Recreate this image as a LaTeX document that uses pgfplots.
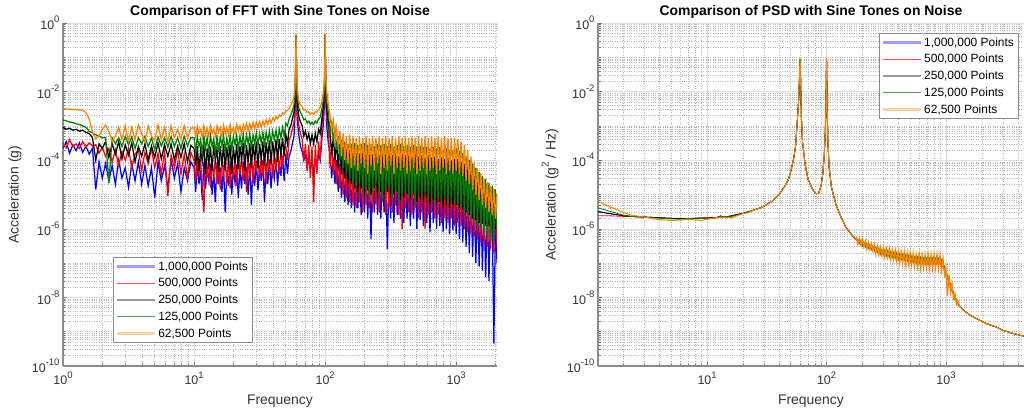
\documentclass[border=0pt]{standalone}
\usepackage{fontspec}
\setmainfont{Liberation Sans}
\usepackage{pgfplots}
\usepackage{pgfplotstable}
\pgfplotsset{compat=1.18}

\definecolor{mblue}{rgb}{0,0,1}
\definecolor{mred}{rgb}{1,0,0}
\definecolor{mgreen}{rgb}{0,0.5,0}
\definecolor{morange}{rgb}{1,0.5,0}
\definecolor{lblue}{rgb}{0.62,0.62,1}
\definecolor{lred}{rgb}{1,0.3,0.3}
\definecolor{lgray}{rgb}{0.6,0.6,0.6}
\definecolor{lgreen}{rgb}{0.3,0.62,0.3}
\definecolor{lorange}{rgb}{1,0.82,0.62}
\newcommand{\ex}[1]{10\raisebox{0.55em}{\fontsize{9.5}{10}\selectfont #1}}

% FFT magnitude
\pgfplotstableread{
f b r k g o
1.000 2.2e-4 3.2e-4 9e-4 1.5e-3 3.2e-3
1.059 3.5e-4 2.3e-4 8e-4 1.4e-3 3.1e-3
1.122 1.6e-4 4e-4 8.5e-4 1.3e-3 3.1e-3
1.189 2.8e-4 2.5e-4 7.5e-4 1.25e-3 3.0e-3
1.259 1.9e-4 3e-4 8e-4 1.15e-3 3.0e-3
1.334 3.2e-4 2.2e-4 7e-4 1.1e-3 2.9e-3
1.413 1.7e-4 3.5e-4 7.5e-4 1.0e-3 2.9e-3
1.496 2.6e-4 2.4e-4 6.5e-4 9e-4 2.4e-3
1.585 1.5e-4 3.2e-4 6e-4 7e-4 1.6e-3
1.679 2.2e-4 2.6e-4 4.5e-4 6.3e-4 6.5e-4
1.778 1.4e-5 2.8e-4 1e-4 5.5e-4 4.2e-4
1.884 9e-5 1.6e-4 3e-4 5e-4 5e-4
1.995 3e-5 2.4e-4 2.2e-4 4.5e-4 8e-4
2.113 8e-5 1.3e-4 3.5e-4 4.5e-4 1.05e-3
2.239 2.5e-5 2.2e-4 1.2e-4 2.2e-5 7e-4
2.371 7e-5 9e-5 3e-4 4.5e-4 3.5e-4
2.512 2e-5 2e-4 1.5e-4 3e-4 5e-4
2.661 1e-4 7e-5 3.5e-4 4.5e-4 9e-4
2.818 3e-5 1.8e-4 1.1e-4 2.5e-4 4e-4
2.985 6e-5 1e-4 2.8e-4 5e-4 1e-3
3.162 1.6e-5 2.2e-4 1.4e-4 2.8e-4 3.5e-4
3.350 8e-5 6e-5 3.2e-4 4.8e-4 9e-4
3.548 2.5e-5 1.5e-4 9e-5 2.2e-4 4e-4
3.758 9e-5 2e-4 2.5e-4 4.5e-4 1.05e-3
3.981 2e-5 5e-5 1.3e-4 3e-4 6e-4
4.217 7e-5 1.7e-4 3e-4 5e-4 3.5e-4
4.467 1.8e-5 8e-5 1e-4 2.5e-4 1e-3
4.732 6e-5 2.2e-4 2.6e-4 4.5e-4 5e-4
5.012 8e-6 6e-5 1.2e-4 2e-4 3.8e-4
5.309 9e-5 1.6e-4 3.2e-4 4.8e-4 1.05e-3
5.623 2.5e-5 4e-5 1.1e-4 2.6e-4 4e-4
5.957 7e-5 1.8e-4 2.8e-4 4.5e-4 9e-4
6.310 1.5e-5 9e-6 1.3e-4 2.4e-4 3.5e-4
6.683 1e-4 1.4e-4 3e-4 5e-4 1e-3
7.079 3e-5 6e-5 1e-4 2.5e-4 4.5e-4
7.499 8e-5 2e-4 2.6e-4 4.5e-4 8e-4
7.943 1.2e-5 4e-5 1.2e-4 2.2e-4 4e-4
8.414 6e-5 1.5e-4 3e-4 5e-4 1e-3
8.913 2.5e-5 3e-5 9e-5 2.6e-4 4.5e-4
9.441 9e-5 1.7e-4 2.7e-4 4.5e-4 8.5e-4
10.00 6e-5 1e-4 2.2e-4 4.5e-4 9e-4
10.29 1.2e-5 2.5e-5 7e-5 1.8e-4 5e-4
10.59 8e-5 1.2e-4 2.6e-4 5e-4 1e-3
10.90 2e-5 4e-5 5e-5 2.5e-4 6e-4
11.22 5e-5 9e-5 2e-4 4e-4 8e-4
11.55 7e-6 2e-5 9e-5 1.6e-4 4.5e-4
11.89 9e-5 3e-6 2.8e-4 5e-4 1e-3
12.23 1.5e-5 1.1e-4 4e-5 2.2e-4 5.5e-4
12.59 6e-5 3e-5 2.2e-4 4.5e-4 8.5e-4
12.96 2.5e-5 1.25e-4 8e-5 1.7e-4 5e-4
13.34 8e-5 1.6e-5 2.5e-4 5.2e-4 1e-3
13.73 1e-5 9e-5 5e-5 2.5e-4 6e-4
14.13 4.5e-5 3.5e-5 2.8e-4 4.2e-4 8e-4
14.54 6e-6 1.2e-4 1e-4 1.6e-4 5e-4
14.96 8.5e-5 2e-5 2.2e-4 5e-4 1e-3
15.40 2e-5 1e-4 4.5e-5 2e-4 6.5e-4
15.85 6e-5 1.4e-5 2.6e-4 4.8e-4 9e-4
16.31 1.2e-5 1.3e-4 7e-5 2.6e-4 5e-4
16.79 7e-5 4e-5 3e-4 5.2e-4 1.05e-3
17.28 3e-6 1e-4 5e-5 1.8e-4 6e-4
17.78 5e-5 2e-5 2.4e-4 4.5e-4 9e-4
18.30 1.8e-5 1.2e-4 9e-5 2.2e-4 5.5e-4
18.84 9e-5 1.5e-5 2.8e-4 5.5e-4 1.1e-3
19.39 1e-5 1.3e-4 4e-5 2e-4 6.5e-4
19.95 6e-5 3e-5 2.5e-4 5e-4 9e-4
20.54 2.2e-5 1.1e-4 8e-5 2.8e-4 6e-4
21.14 7.5e-5 1.8e-5 3e-4 5.5e-4 1.1e-3
21.75 8e-6 1.4e-4 5.5e-5 2e-4 7e-4
22.39 5.5e-5 4e-5 2.6e-4 5e-4 1e-3
23.04 1.5e-5 1.2e-4 1e-4 2.5e-4 6e-4
23.71 9e-5 2.5e-5 3.2e-4 5.8e-4 1.1e-3
24.41 2e-5 1.5e-4 5e-5 2.2e-4 7.5e-4
25.12 6.5e-5 1.2e-5 2.8e-4 5.5e-4 1.2e-3
25.85 1e-5 1.3e-4 9e-5 3e-4 7e-4
26.61 8e-5 3e-5 3.2e-4 6e-4 1.15e-3
27.38 5e-6 1.5e-4 6e-5 2.3e-4 8e-4
28.18 7e-5 2e-5 3e-4 5.5e-4 1.25e-3
29.01 1.8e-5 1.3e-4 1e-4 3e-4 8e-4
29.85 9.5e-5 4.5e-5 3.5e-4 6.3e-4 1.3e-3
30.73 1.3e-5 1.6e-4 6e-5 2.6e-4 9e-4
31.62 7e-5 2.5e-5 3e-4 6e-4 1.3e-3
32.55 2.5e-5 1.4e-4 1.1e-4 3.2e-4 9e-4
33.50 1e-4 3.5e-5 3.5e-4 6.5e-4 1.4e-3
34.48 6e-6 1.7e-4 7e-5 2.8e-4 1e-3
35.48 8e-5 2e-5 3.3e-4 6.5e-4 1.5e-3
36.52 2e-5 1.5e-4 1.2e-4 3.5e-4 1.1e-3
37.58 1.05e-4 4.5e-5 3.8e-4 7e-4 1.6e-3
38.68 1.5e-5 1.8e-4 8e-5 3e-4 1.2e-3
39.81 7.5e-5 3e-5 3.5e-4 7e-4 1.7e-3
40.97 3e-5 1.7e-4 1.3e-4 4e-4 1.4e-3
42.17 1.1e-4 5e-5 4e-4 7.5e-4 1.9e-3
43.40 1.8e-5 2e-4 9e-5 3.5e-4 1.6e-3
44.67 9e-5 4e-5 4.2e-4 8e-4 2.1e-3
45.97 3.5e-5 2.2e-4 1.5e-4 4.5e-4 1.9e-3
47.32 1.3e-4 6e-5 4.5e-4 9e-4 2.4e-3
48.70 2.5e-5 2.5e-4 1.3e-4 5e-4 2.2e-3
50.12 1.5e-4 2.5e-4 5.6e-4 1.2e-3 2.7e-3
51.58 4e-5 1e-4 3e-4 1e-3 2.8e-3
53.09 1.3e-4 4e-4 8e-4 1.6e-3 3.2e-3
54.64 1.8e-4 5e-4 1e-3 2e-3 4e-3
56.23 3e-4 8e-4 1.6e-3 2.8e-3 5e-3
57.88 5e-4 1.3e-3 2.5e-3 4e-3 7e-3
58.9 2e-3 3.2e-3 5e-3 8e-3 1.3e-2
59.5 2e-2 2.5e-2 3.2e-2 4e-2 5e-2
60.0 0.45 0.45 0.45 0.45 0.45
60.5 1.6e-2 2.5e-2 3.2e-2 4e-2 5e-2
61.2 1.6e-3 2.5e-3 5e-3 8e-3 1.3e-2
63.10 5e-4 1e-3 1.8e-3 3.2e-3 5e-3
64.94 2.5e-4 6e-4 1.3e-3 2.5e-3 4e-3
66.83 1.8e-4 4e-4 1e-3 2e-3 3.5e-3
68.79 1e-4 1e-4 5e-4 1.5e-3 2.9e-3
70.80 1.5e-4 3e-4 7e-4 1.6e-3 3e-3
72.86 6e-5 5e-5 4e-4 1.2e-3 2.5e-3
74.99 1.2e-4 2.8e-4 6e-4 1.4e-3 2.6e-3
77.18 5e-5 3e-5 3e-4 1.1e-3 2.2e-3
79.43 1.1e-4 2.5e-4 5.5e-4 1.3e-3 2.4e-3
81.75 4e-5 6e-6 3e-4 1.1e-3 2.2e-3
84.14 1.2e-4 2.8e-4 6e-4 1.4e-3 2.6e-3
86.60 6e-5 4e-5 3.5e-4 1.2e-3 2.5e-3
89.13 1.6e-4 3.5e-4 8e-4 1.6e-3 3e-3
91.73 1e-4 1e-4 6e-4 1.8e-3 3.5e-3
94.41 4e-4 1e-3 1.6e-3 3.2e-3 5e-3
97.16 1.2e-3 2.5e-3 4e-3 6.3e-3 1e-2
98.6 4e-3 6e-3 1e-2 1.3e-2 2e-2
99.4 2.5e-2 3.2e-2 4e-2 5e-2 6.3e-2
100.0 0.47 0.47 0.47 0.47 0.47
100.6 2.5e-2 3.2e-2 4e-2 5e-2 6.3e-2
101.4 5e-3 8e-3 1.25e-2 1.6e-2 2e-2
102.9 1e-3 2e-3 3.2e-3 5e-3 1e-2
105.9 3e-4 8e-4 1.3e-3 2.5e-3 4e-3
109.0 1.5e-4 6e-5 6e-4 6e-4 2e-3
112.2 3e-5 3e-4 1.5e-4 1.2e-3 8e-4
115.5 1.2e-4 4e-5 5e-4 4e-4 1.5e-3
118.9 2e-5 2e-4 1e-4 8e-4 4e-4
122.3 1e-4 2e-5 3.5e-4 2e-4 9e-4
125.9 1.2e-5 1.5e-4 6e-5 5e-4 2.5e-4
129.6 8e-5 1.5e-5 3e-4 1e-4 7e-4
133.4 8e-6 1.3e-4 4e-5 4e-4 1.5e-4
137.3 7e-5 1e-5 2.5e-4 6e-5 6e-4
141.3 6e-6 1.2e-4 3e-5 3.5e-4 1e-4
145.4 6e-5 8e-6 2.2e-4 4e-5 5e-4
149.6 5e-6 1e-4 2e-5 3e-4 8e-5
154.0 5.5e-5 6e-6 2e-4 3e-5 5.5e-4
158.5 4e-6 1.1e-4 2e-5 3e-4 6e-5
163.1 5e-5 5e-6 1.8e-4 2e-5 5e-4
167.9 3e-6 9e-5 1.5e-5 3.2e-4 7e-5
172.8 5.5e-5 4e-6 2e-4 1.5e-5 4.5e-4
177.8 4e-6 1.1e-4 1.2e-5 2.8e-4 5e-5
183.0 4.5e-5 6e-6 1.6e-4 2e-5 5e-4
188.4 2.5e-6 9e-5 1.5e-5 3e-4 8e-5
193.9 5e-5 3e-6 1.9e-4 1e-5 4.5e-4
199.5 3e-6 1e-4 1e-5 3.2e-4 6e-5
205.4 4e-5 5e-6 1.5e-4 1.5e-5 5e-4
211.4 2e-6 8e-5 1.3e-5 2.8e-4 4e-5
217.5 5e-5 4e-6 1.8e-4 8e-6 4.5e-4
223.9 5e-7 1e-4 1e-5 3e-4 7e-5
230.4 4.5e-5 3e-6 1.5e-4 1.2e-5 5e-4
237.1 3e-6 9e-5 1.5e-5 2.6e-4 5e-5
244.1 5e-5 5e-6 1.7e-4 2e-5 4.5e-4
251.2 2.5e-6 1e-4 8e-6 3e-4 8e-5
258.5 4e-5 3e-6 1.4e-4 1e-5 5e-4
266.1 2e-6 8e-5 1.2e-5 2.8e-4 4e-5
273.8 5e-5 6e-6 1.8e-4 6e-6 4.5e-4
281.8 3e-6 1e-4 1e-5 3e-4 6e-5
290.1 4e-5 2.5e-6 1.5e-4 1.2e-5 5e-4
298.5 2.5e-7 9e-5 1.2e-5 2.6e-4 5e-5
307.3 4.5e-5 4e-6 1.7e-4 1.5e-5 4.5e-4
316.2 2e-6 8e-5 8e-6 3e-4 7e-5
325.5 4e-5 3e-6 1.4e-4 8e-6 5e-4
335.0 1.5e-6 1e-4 1e-5 2.6e-4 4e-5
344.8 5e-5 5e-6 1.6e-4 1.2e-5 4.5e-4
354.8 2.5e-6 8e-5 1.2e-5 2.8e-4 6e-5
365.2 3.5e-5 2.5e-6 1.3e-4 6e-6 5e-4
375.8 2e-6 9e-5 7e-6 3e-4 5e-5
386.8 4e-5 1e-6 1.5e-4 1e-5 4.5e-4
398.1 1.5e-6 8e-5 8e-6 2.6e-4 6e-5
409.7 4e-5 4e-6 1.4e-4 1.2e-5 5e-4
421.7 2e-6 9e-5 1e-5 2.8e-4 4e-5
434.0 3.5e-5 3e-6 1.6e-4 8e-6 4.5e-4
446.7 1.2e-6 7e-5 7e-6 2.5e-4 5e-5
459.7 4e-5 2.5e-6 1.3e-4 1e-5 5e-4
473.2 2e-6 8e-5 1e-5 2.8e-4 6e-5
487.0 3.5e-5 4e-6 1.5e-4 5e-6 4.5e-4
501.2 1e-6 7e-5 6e-6 2.5e-4 4e-5
515.8 4e-5 2e-6 1.3e-4 1e-5 5e-4
530.9 1.8e-6 8e-5 8e-6 2.6e-4 5e-5
546.4 3e-5 3e-6 1.4e-4 8e-6 4.5e-4
562.3 1.2e-6 7e-5 6e-6 2.4e-4 6e-5
578.8 3.5e-5 1e-6 1.2e-4 1.2e-5 5e-4
595.7 1.5e-6 8e-5 8e-6 2.5e-4 4e-5
613.1 3e-5 2.5e-6 1.4e-4 6e-6 4.5e-4
631.0 8e-7 6e-5 5e-6 2.2e-4 5e-5
649.4 3.5e-5 3e-6 1.2e-4 1e-5 5e-4
668.3 1.5e-6 7e-5 7e-6 2.4e-4 6e-5
687.9 3e-5 2e-6 1.3e-4 5e-6 4.5e-4
708.0 1e-6 6e-5 5e-6 2.2e-4 4e-5
728.6 3e-5 2.5e-6 1.1e-4 8e-6 5e-4
749.9 1.2e-6 7e-5 6e-6 2.4e-4 5e-5
771.8 2.5e-5 1.5e-6 1.2e-4 6e-6 4.5e-4
794.3 8e-7 6e-5 4e-6 2e-4 6e-5
817.5 3e-5 2e-6 1.1e-4 8e-6 5e-4
841.4 1e-6 5e-5 5e-6 2.2e-4 4e-5
866.0 2.5e-5 1.5e-6 1.2e-4 5e-6 4.5e-4
891.3 7e-7 6e-5 4e-6 2e-4 5e-5
917.3 2.5e-5 2e-6 1e-4 7e-6 4.5e-4
944.1 9e-7 5e-5 5e-6 2e-4 4e-5
971.6 2.5e-5 1.2e-6 1.1e-4 5e-6 4.5e-4
1000 7e-7 6e-5 5e-6 2.2e-4 5e-5
1029 2.5e-5 1.5e-6 1.1e-4 5e-6 4.2e-4
1059 5e-7 5.5e-5 4e-6 1.9e-4 4e-5
1090 2.2e-5 1.2e-6 9e-5 4e-6 3.5e-4
1122 4e-7 5e-5 3.5e-6 1.6e-4 3.5e-5
1155 2e-5 1e-6 8e-5 3e-6 2.8e-4
1189 3e-7 4e-5 3e-6 1.3e-4 2.5e-5
1223 1.6e-5 8e-7 6.5e-5 2.5e-6 2e-4
1259 2e-7 3.5e-5 2.5e-6 1e-4 2e-5
1296 1.4e-5 7e-7 5e-5 2e-6 1.3e-4
1334 1.5e-7 3e-5 2e-6 8e-5 1.4e-5
1372 1.2e-5 6e-7 4.5e-5 1.5e-6 9e-5
1413 1e-7 2.5e-5 1.8e-6 6e-5 1e-5
1454 1e-5 5e-7 3.5e-5 1.2e-6 6e-5
1496 8e-8 2e-5 1.5e-6 4.5e-5 7e-6
1540 8e-6 4e-7 3e-5 1e-6 4.2e-5
1585 6e-8 1.6e-5 1.4e-6 3.5e-5 5e-6
1631 6e-6 3.5e-7 2.5e-5 8e-7 3e-5
1679 4e-8 1.3e-5 1.2e-6 2.8e-5 4e-6
1728 5e-6 3e-7 2e-5 6e-7 2.3e-5
1778 3e-8 1e-5 1.2e-6 2.2e-5 3e-6
1830 4e-6 2.5e-7 1.6e-5 5e-7 1.8e-5
1884 2e-6 8e-6 1e-6 1.8e-5 2.5e-6
1939 4.5e-10 2e-7 1.4e-5 4e-7 1.5e-5
1995 2e-6 7e-6 1e-6 1.4e-5 2e-6
2048 1e-7 3e-7 1e-5 1e-6 1e-5
}\fft

% PSD, smooth part below 178 Hz
\pgfplotstableread{
f b r k g o
1.22 3.2e-6 2.4e-6 3.2e-6 4.1e-6 6.3e-6
1.5 2.8e-6 2.4e-6 2.8e-6 3.3e-6 4.5e-6
2.0 2.4e-6 2.3e-6 2.4e-6 2.5e-6 3e-6
2.3 2.3e-6 2.3e-6 2.3e-6 2.3e-6 2.5e-6
3 2.2e-6 2.2e-6 2.2e-6 2.15e-6 2.2e-6
4 2.1e-6 2.1e-6 2.1e-6 2.05e-6 1.85e-6
5 2.0e-6 2.05e-6 2.0e-6 1.95e-6 1.75e-6
6 2.0e-6 2.0e-6 2.0e-6 1.9e-6 1.8e-6
7 2.0e-6 2.0e-6 2.0e-6 2.0e-6 1.9e-6
8 2.0e-6 2.0e-6 2.05e-6 1.95e-6 1.8e-6
9 2.05e-6 2.05e-6 2.05e-6 2.0e-6 1.75e-6
10 2.05e-6 2.1e-6 2.05e-6 2.0e-6 1.9e-6
11 2.1e-6 2.1e-6 2.1e-6 2.05e-6 2.0e-6
12 2.1e-6 2.15e-6 2.1e-6 2.1e-6 2.1e-6
13 2.4e-6 2.3e-6 2.35e-6 2.3e-6 2.2e-6
13.5 2.15e-6 2.2e-6 2.2e-6 2.2e-6 2.1e-6
14 2.2e-6 2.2e-6 2.2e-6 2.15e-6 2.2e-6
16 2.35e-6 2.35e-6 2.4e-6 2.3e-6 2.1e-6
18 2.6e-6 2.6e-6 2.65e-6 2.55e-6 2.4e-6
20 2.8e-6 2.8e-6 2.85e-6 2.8e-6 2.8e-6
22 3.1e-6 3.1e-6 3.1e-6 3.1e-6 2.9e-6
25 3.6e-6 3.6e-6 3.6e-6 3.6e-6 3.6e-6
28 4.1e-6 4.1e-6 4.1e-6 4.1e-6 4.1e-6
30 4.6e-6 4.6e-6 4.6e-6 4.6e-6 4.6e-6
35 6.3e-6 6.3e-6 6.3e-6 6.3e-6 6.3e-6
40 1e-5 1e-5 1e-5 1e-5 1e-5
45 1.8e-5 1.8e-5 1.8e-5 1.8e-5 1.8e-5
48 2.8e-5 2.8e-5 2.8e-5 2.8e-5 2.8e-5
50 4.5e-5 4.5e-5 4.5e-5 4.5e-5 4.5e-5
53 1.1e-4 1.1e-4 1.1e-4 1.1e-4 1.1e-4
55 2.5e-4 2.5e-4 2.5e-4 2.5e-4 2.5e-4
57 1.5e-3 1.5e-3 1.5e-3 1.5e-3 1.5e-3
58.5 6.3e-3 6.3e-3 6.3e-3 6.3e-3 6.3e-3
59.3 2.5e-2 2.5e-2 2.5e-2 2.5e-2 2.5e-2
59.7 6.3e-2 6.3e-2 6.3e-2 6.3e-2 6.3e-2
60 9e-2 9e-2 9e-2 9e-2 9e-2
60.3 6.3e-2 6.3e-2 6.3e-2 6.3e-2 6.3e-2
60.7 2e-2 2e-2 2e-2 2e-2 2e-2
61.5 2e-3 2e-3 2e-3 2e-3 2e-3
63 3.2e-4 3.2e-4 3.2e-4 3.2e-4 3.2e-4
66 8e-5 8e-5 8e-5 8e-5 8e-5
70 2.8e-5 2.8e-5 2.8e-5 2.8e-5 2.8e-5
75 1.6e-5 1.6e-5 1.6e-5 1.6e-5 1.6e-5
80 1.1e-5 1.1e-5 1.1e-5 1.1e-5 1.1e-5
83 1.05e-5 1.05e-5 1.05e-5 1.05e-5 1.05e-5
86 1.1e-5 1.1e-5 1.1e-5 1.1e-5 1.1e-5
90 1.8e-5 1.8e-5 1.8e-5 1.8e-5 1.8e-5
93 4e-5 4e-5 4e-5 4e-5 4e-5
95.5 1.25e-4 1.25e-4 1.25e-4 1.25e-4 1.25e-4
97.5 6.3e-4 6.3e-4 6.3e-4 6.3e-4 6.3e-4
98.8 4e-3 4e-3 4e-3 4e-3 4e-3
99.6 3.2e-2 3.2e-2 3.2e-2 3.2e-2 3.2e-2
100 9.3e-2 9.3e-2 9.3e-2 9.3e-2 9.3e-2
100.4 3.2e-2 3.2e-2 3.2e-2 3.2e-2 3.2e-2
101.2 3.2e-3 3.2e-3 3.2e-3 3.2e-3 3.2e-3
102.5 4e-4 4e-4 4e-4 4e-4 4e-4
105 6.3e-5 6.3e-5 6.3e-5 6.3e-5 6.3e-5
110 1.6e-5 1.6e-5 1.6e-5 1.6e-5 1.6e-5
120 5e-6 5e-6 5e-6 5e-6 5e-6
130 2.5e-6 2.5e-6 2.5e-6 2.5e-6 2.5e-6
145 1.1e-6 1.1e-6 1.1e-6 1.1e-6 1.1e-6
165 6.3e-7 6.3e-7 6.3e-7 6.3e-7 6.3e-7
177.8 4.8e-7 4.8e-7 4.8e-7 4.8e-7 4.8e-7
}\psdlow

% PSD, smooth mean above 178 Hz
\pgfplotstableread{
f v
177.8 4.8e-7
190 4.2e-7
230 3.2e-7
300 2.1e-7
400 1.6e-7
500 1.3e-7
600 1.2e-7
700 1.12e-7
800 1.1e-7
900 1.1e-7
950 8e-8
1000 5e-8
1090 2.3e-8
1150 1.3e-8
1235 7.4e-9
1300 5.6e-9
1400 4.2e-9
1600 3e-9
1800 2.4e-9
2200 1.7e-9
2600 1.4e-9
3000 1.1e-9
3600 9e-10
4500 7.4e-10
}\psdtail

% PSD scatter of the two shortest records
\pgfplotstableread{
f g o
177.8 4.4e-7 5.75e-7
183.0 5e-7 3.55e-7
188.4 3.7e-7 5.4e-7
193.9 4.6e-7 3.3e-7
199.5 3.2e-7 5e-7
205.4 4.2e-7 2.9e-7
211.4 2.95e-7 4.4e-7
217.5 3.8e-7 2.5e-7
223.9 2.7e-7 4e-7
230.4 3.5e-7 2.4e-7
237.1 2.45e-7 3.8e-7
244.1 3.2e-7 2.2e-7
251.2 2.25e-7 3.5e-7
258.5 2.95e-7 1.8e-7
266.1 2.05e-7 3.2e-7
273.8 2.7e-7 1.75e-7
281.8 1.8e-7 3e-7
290.1 2.5e-7 1.6e-7
298.5 1.75e-7 2.8e-7
307.3 2.45e-7 1.45e-7
316.2 1.6e-7 2.75e-7
325.5 2.35e-7 1.45e-7
335.0 1.5e-7 2.6e-7
344.8 2.2e-7 1.25e-7
354.8 1.45e-7 2.45e-7
365.2 2.1e-7 1.23e-7
375.8 1.35e-7 2.4e-7
386.8 2e-7 1.1e-7
398.1 1.25e-7 2.25e-7
409.7 1.9e-7 1.02e-7
421.7 1.23e-7 2.25e-7
434.0 1.8e-7 1.02e-7
446.7 1.17e-7 2.2e-7
459.7 1.75e-7 8.9e-8
473.2 1.12e-7 2.05e-7
487.0 1.65e-7 8.9e-8
501.2 1.07e-7 2.1e-7
515.8 1.6e-7 8.7e-8
530.9 1.02e-7 1.95e-7
546.4 1.5e-7 7.8e-8
562.3 9.8e-8 1.8e-7
578.8 1.5e-7 7.8e-8
595.7 9.5e-8 1.85e-7
613.1 1.45e-7 7.1e-8
631.0 9.3e-8 1.8e-7
649.4 1.4e-7 7.2e-8
668.3 9.1e-8 1.8e-7
687.9 1.38e-7 7.4e-8
708.0 9.1e-8 1.85e-7
728.6 1.38e-7 7.1e-8
749.9 9.1e-8 1.8e-7
771.8 1.38e-7 6.8e-8
794.3 9.1e-8 1.8e-7
817.5 1.38e-7 7.1e-8
841.4 9.1e-8 1.85e-7
866.0 1.35e-7 6.9e-8
891.3 8.9e-8 1.75e-7
917.3 1.25e-7 6.3e-8
944.1 7.6e-8 1.4e-7
971.6 8.3e-8 4.5e-8
1000 4.2e-8 7.1e-8
1029 4.4e-8 1.07e-8
1059 2.5e-8 4.7e-8
1090 2.6e-8 1.45e-8
1122 1.5e-8 2.7e-8
1155 1.5e-8 9.3e-9
1189 8.9e-9 1.3e-8
1223 8.9e-9 6.3e-9
1259 6.3e-9 7.8e-9
1296 6e-9 5.75e-9
}\psdnoise

\pgfplotsset{every axis/.append style={
    scale only axis,
    height=343bp,
    ymin=1e-10, ymax=1,
    axis x line*=bottom,
    axis y line*=left,
    axis line style={black!45, line width=1.1bp},
    tick style={black!55, line width=0.5bp},
    major tick length=4bp, minor tick length=2.5bp,
    grid=both,
    major grid style={black!13, line width=0.5bp},
    minor grid style={black!28, dotted, line width=0.5bp},
    ytick={1e-10,1e-8,1e-6,1e-4,1e-2,1},
    yticklabels={\ex{-10},\ex{-8},\ex{-6},\ex{-4},\ex{-2},\ex{0}},
    minor ytick={2e-10,3e-10,4e-10,5e-10,6e-10,7e-10,8e-10,9e-10,
      1e-9,2e-9,3e-9,4e-9,5e-9,6e-9,7e-9,8e-9,9e-9,
      2e-8,3e-8,4e-8,5e-8,6e-8,7e-8,8e-8,9e-8,
      1e-7,2e-7,3e-7,4e-7,5e-7,6e-7,7e-7,8e-7,9e-7,
      2e-6,3e-6,4e-6,5e-6,6e-6,7e-6,8e-6,9e-6,
      1e-5,2e-5,3e-5,4e-5,5e-5,6e-5,7e-5,8e-5,9e-5,
      2e-4,3e-4,4e-4,5e-4,6e-4,7e-4,8e-4,9e-4,
      1e-3,2e-3,3e-3,4e-3,5e-3,6e-3,7e-3,8e-3,9e-3,
      2e-2,3e-2,4e-2,5e-2,6e-2,7e-2,8e-2,9e-2,
      1e-1,2e-1,3e-1,4e-1,5e-1,6e-1,7e-1,8e-1,9e-1},
    minor xtick={2,3,4,5,6,7,8,9,20,30,40,50,60,70,80,90,200,300,400,500,600,700,800,900,2000,3000,4000},
    tick label style={font=\fontsize{12.5}{14}\selectfont, text=black!80},
    xticklabel style={yshift=-2bp},
    title style={font=\bfseries\fontsize{14}{16}\selectfont, at={(0.5,1)}, anchor=south, yshift=-4.5bp},
    xlabel style={font=\fontsize{14}{16}\selectfont, text=black!80, at={(axis description cs:0.5,0)}, anchor=north, yshift=-25bp},
    legend style={draw=black!45, line width=0.9bp, fill=white,
      font=\fontsize{12}{13.5}\selectfont, inner xsep=2.5bp, inner ysep=2bp, row sep=2.6bp},
    legend cell align=left,
}}

\begin{document}
\begin{tikzpicture}
\path[use as bounding box] (0,0) rectangle (1024bp,416bp);

\begin{loglogaxis}[
  at={(63bp,50bp)}, anchor=south west, width=434bp,
  xmin=1, xmax=2048,
  xtick={1,10,100,1000},
  xticklabels={\ex{0},\ex{1},\ex{2},\ex{3}},
  title={Comparison of FFT with Sine Tones on Noise},
  xlabel={Frequency},
  ylabel={Acceleration (g)},
  ylabel style={font=\fontsize{14}{16}\selectfont, text=black!80, at={(axis description cs:-0.1106,0.5)}, anchor=center},
  legend style={at={(0.115,0.067)}, anchor=south west},
  legend image code/.code={\draw[#1] (0bp,0bp) -- (38bp,0bp);},
]
\addlegendimage{color=lblue, line width=2.4bp}
\addlegendimage{color=lred, line width=1.1bp}
\addlegendimage{color=lgray, line width=2.4bp}
\addlegendimage{color=lgreen, line width=1.1bp}
\addlegendimage{color=lorange, line width=2.4bp}
\addplot[mblue, line width=1.25bp, forget plot] table[x=f, y=b]{\fft};
\addplot[mred, line width=1.25bp, forget plot] table[x=f, y=r]{\fft};
\addplot[black, line width=1.25bp, forget plot] table[x=f, y=k]{\fft};
\addplot[mgreen, line width=1.25bp, forget plot] table[x=f, y=g]{\fft};
\addplot[morange, line width=1.25bp, forget plot] table[x=f, y=o]{\fft};
\legend{{1,000,000 Points},{500,000 Points},{250,000 Points},{125,000 Points},{62,500 Points}}
\end{loglogaxis}

\begin{loglogaxis}[
  at={(598bp,50bp)}, anchor=south west, width=426bp,
  xmin=1.22, xmax=4500,
  xtick={10,100,1000},
  xticklabels={\ex{1},\ex{2},\ex{3}},
  title={Comparison of PSD with Sine Tones on Noise},
  xlabel={Frequency},
  ylabel={Acceleration (g\raisebox{0.5em}{\fontsize{10}{10}\selectfont 2} / Hz)},
  ylabel style={font=\fontsize{14}{16}\selectfont, text=black!80, at={(axis description cs:-0.1127,0.5)}, anchor=center},
  legend style={at={(0.988,0.971)}, anchor=north east},
  legend image code/.code={\draw[#1] (0bp,0bp) -- (38bp,0bp);},
]
\addlegendimage{color=lblue, line width=2.4bp}
\addlegendimage{color=lred, line width=1.1bp}
\addlegendimage{color=lgray, line width=2.4bp}
\addlegendimage{color=lgreen, line width=1.1bp}
\addlegendimage{color=lorange, line width=2.4bp}
\addplot[mblue, line width=0.8bp, forget plot] table[x=f, y=b]{\psdlow};
\addplot[mblue, line width=0.8bp, forget plot] table[x=f, y=v]{\psdtail};
\addplot[mred, line width=0.8bp, forget plot] table[x=f, y=r]{\psdlow};
\addplot[mred, line width=0.8bp, forget plot] table[x=f, y=v]{\psdtail};
\addplot[black, line width=0.8bp, forget plot] table[x=f, y=k]{\psdlow};
\addplot[black, line width=0.8bp, forget plot] table[x=f, y=v]{\psdtail};
\addplot[mgreen, line width=0.8bp, forget plot] table[x=f, y=g]{\psdlow};
\addplot[mgreen, line width=0.8bp, forget plot] table[x=f, y=v]{\psdtail};
\addplot[mgreen, line width=0.8bp, forget plot] table[x=f, y=g]{\psdnoise};
\addplot[morange, line width=1.0bp, forget plot] table[x=f, y=o]{\psdlow};
\addplot[morange, line width=1.0bp, forget plot] table[x=f, y=v]{\psdtail};
\addplot[morange, line width=1.2bp, forget plot] table[x=f, y=o]{\psdnoise};
\legend{{1,000,000 Points},{500,000 Points},{250,000 Points},{125,000 Points},{62,500 Points}}
\end{loglogaxis}
\end{tikzpicture}
\end{document}
